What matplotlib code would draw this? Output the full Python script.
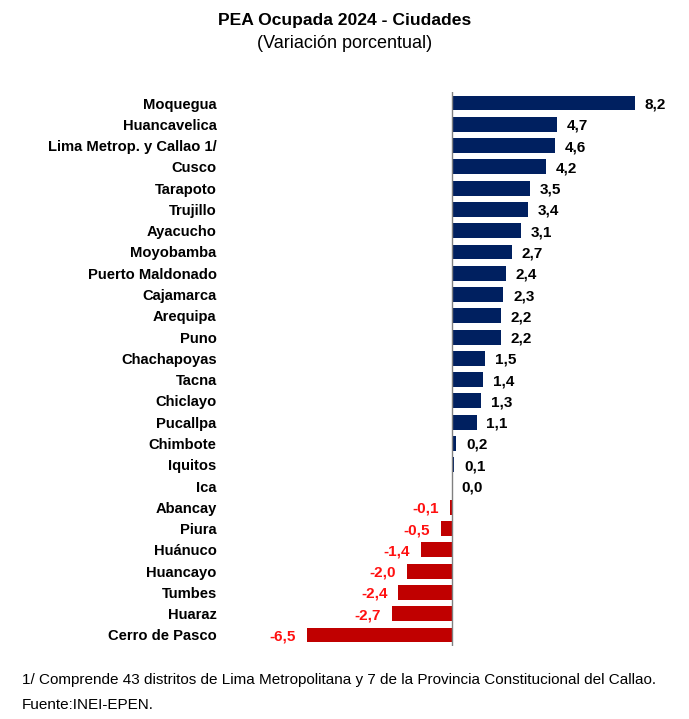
import numpy as np
import matplotlib
matplotlib.use("Agg")
import matplotlib.pyplot as plt

plt.rcParams['font.family'] = ['Liberation Sans', 'DejaVu Sans']

# data
ciudades = ["Moquegua", "Huancavelica", "Lima Metrop. y Callao 1/", "Cusco", "Tarapoto",
            "Trujillo", "Ayacucho", "Moyobamba", "Puerto Maldonado", "Cajamarca",
            "Arequipa", "Puno", "Chachapoyas", "Tacna", "Chiclayo", "Pucallpa",
            "Chimbote", "Iquitos", "Ica", "Abancay", "Piura", "Huánuco", "Huancayo",
            "Tumbes", "Huaraz", "Cerro de Pasco"]
variacion = [8.2, 4.7, 4.6, 4.2, 3.5, 3.4, 3.1, 2.7, 2.4, 2.3, 2.2, 2.2, 1.5, 1.4,
             1.3, 1.1, 0.2, 0.1, 0.0, -0.1, -0.5, -1.4, -2.0, -2.4, -2.7, -6.5]

azul = "#002060"
rojo = "#C00000"
rojo_txt = "#FF1010"

fig = plt.figure(figsize=(6.89, 7.19), dpi=100)
ax = fig.add_axes([0.4133, 0.1021, 0.5502, 0.7694])

y = np.arange(len(ciudades))
colores = [azul if v >= 0 else rojo for v in variacion]
ax.barh(y, variacion, height=0.7, color=colores, zorder=2)

for yi, v in zip(y, variacion):
    txt = f"{v:.1f}".replace(".", ",")
    if v >= 0:
        ax.annotate(txt, (v, yi), xytext=(7, 0), textcoords="offset points",
                    ha="left", va="center_baseline", fontsize=11, fontweight="bold", color="black")
    else:
        ax.annotate(txt, (v, yi), xytext=(-8, 0), textcoords="offset points",
                    ha="right", va="center_baseline", fontsize=11, fontweight="bold", color=rojo_txt)

ax.set_xlim(-7.5, 9.5)
ax.set_ylim(len(ciudades) - 0.5, -0.5)
ax.axvline(0, color="#808080", lw=1, zorder=3)

ax.set_yticks(y)
ax.set_yticklabels(ciudades, fontsize=10.6, fontweight="bold", va="center_baseline")
ax.tick_params(axis="y", length=0, pad=49)
ax.set_xticks([])
for s in ax.spines.values():
    s.set_visible(False)

fig.text(0.5, 0.971, "PEA Ocupada 2024 - Ciudades", ha="center", va="center",
         fontsize=12.6, fontweight="bold")
fig.text(0.5, 0.939, "(Variación porcentual)", ha="center", va="center", fontsize=13)

fig.text(0.032, 0.054, "1/ Comprende 43 distritos de Lima Metropolitana y 7 de la Provincia Constitucional del Callao.",
         ha="left", va="center", fontsize=11)
fig.text(0.032, 0.020, "Fuente:INEI-EPEN.", ha="left", va="center", fontsize=11)

fig.savefig("out.png", dpi=100)
